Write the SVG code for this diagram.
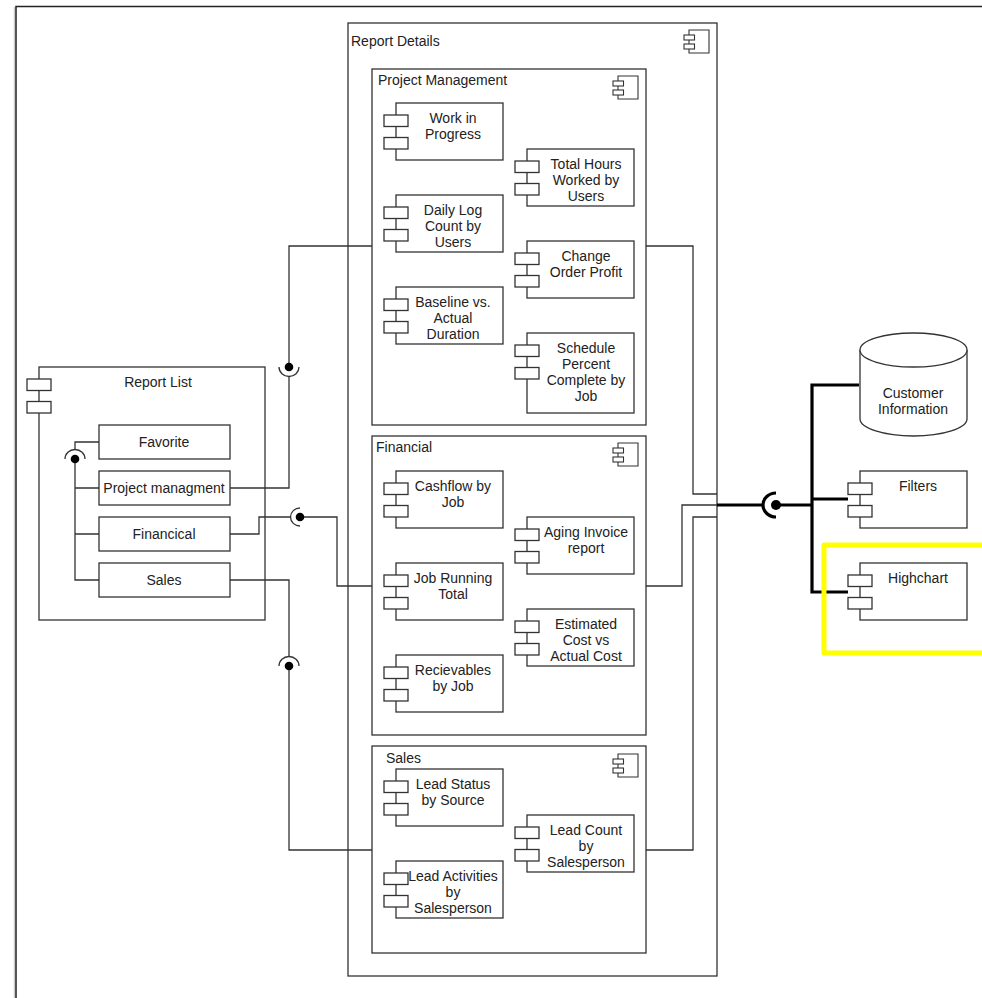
<svg xmlns="http://www.w3.org/2000/svg" width="982" height="998" viewBox="0 0 982 998">
<style>
text{font-family:"Liberation Sans",Arial,sans-serif;font-size:14px;fill:#222}
.m{text-anchor:middle}
.b{fill:#fff;stroke:#333;stroke-width:1.3}
.i{fill:#fff;stroke:#333;stroke-width:1.1}
.c{fill:none;stroke:#333;stroke-width:1.3}
.t{fill:none;stroke:#000;stroke-width:3.2}
.d{fill:#000;stroke:none}
</style>
<defs>
<g id="tabs"><rect class="b" x="-12" y="12" width="24" height="11.500"/><rect class="b" x="-12" y="34.500" width="24" height="11.500"/></g>
<g id="comp"><rect class="b" width="107" height="57"/><use href="#tabs"/></g>
<g id="icon"><path class="i" d="M5 0H25V23H5Z"/><rect class="i" y="5" width="10.500" height="5"/><rect class="i" y="14" width="10.500" height="5"/></g>
</defs>
<rect width="982" height="998" fill="#fff"/>
<path d="M14.500 998V7" fill="none" stroke="#ccc" stroke-width="1.500"/>
<path d="M16 998V6.500H982" fill="none" stroke="#222" stroke-width="1.500"/>

<g id="report-details"><rect class="b" x="348" y="23" width="369" height="953"/><text x="351" y="46">Report Details</text><use href="#icon" x="684" y="30"/></g>
<g id="project-management"><rect class="b" x="372" y="69" width="274" height="356"/><text x="378" y="85">Project Management</text><use href="#icon" x="613" y="76"/></g>
<g id="financial"><rect class="b" x="372" y="436" width="274" height="299"/><text x="376" y="452">Financial</text><use href="#icon" x="613" y="443"/></g>
<g id="sales"><rect class="b" x="372" y="746" width="274" height="207"/><text x="386" y="763">Sales</text><use href="#icon" x="613" y="754"/></g>

<g id="work-in-progress"><use href="#comp" x="396" y="103"/><text class="m" x="453" y="123">Work in</text><text class="m" x="453" y="139">Progress</text></g>
<g id="total-hours"><use href="#comp" x="527" y="149"/><text class="m" x="586" y="169">Total Hours</text><text class="m" x="586" y="185">Worked by</text><text class="m" x="586" y="201">Users</text></g>
<g id="daily-log"><use href="#comp" x="396" y="195"/><text class="m" x="453" y="215">Daily Log</text><text class="m" x="453" y="231">Count by</text><text class="m" x="453" y="247">Users</text></g>
<g id="change-order"><use href="#comp" x="527" y="241"/><text class="m" x="586" y="261">Change</text><text class="m" x="586" y="277">Order Profit</text></g>
<g id="baseline"><use href="#comp" x="396" y="287"/><text class="m" x="453" y="307">Baseline vs.</text><text class="m" x="453" y="323">Actual</text><text class="m" x="453" y="339">Duration</text></g>
<g id="schedule"><rect class="b" x="527" y="333" width="107" height="80"/><use href="#tabs" x="527" y="333"/><text class="m" x="586" y="353">Schedule</text><text class="m" x="586" y="369">Percent</text><text class="m" x="586" y="385">Complete by</text><text class="m" x="586" y="401">Job</text></g>
<g id="cashflow"><use href="#comp" x="396" y="471"/><text class="m" x="453" y="491">Cashflow by</text><text class="m" x="453" y="507">Job</text></g>
<g id="aging"><use href="#comp" x="527" y="517"/><text class="m" x="586" y="537">Aging Invoice</text><text class="m" x="586" y="553">report</text></g>
<g id="job-running"><use href="#comp" x="396" y="563"/><text class="m" x="453" y="583">Job Running</text><text class="m" x="453" y="599">Total</text></g>
<g id="estimated"><use href="#comp" x="527" y="609"/><text class="m" x="586" y="629">Estimated</text><text class="m" x="586" y="645">Cost vs</text><text class="m" x="586" y="661">Actual Cost</text></g>
<g id="recievables"><use href="#comp" x="396" y="655"/><text class="m" x="453" y="675">Recievables</text><text class="m" x="453" y="691">by Job</text></g>
<g id="lead-status"><use href="#comp" x="396" y="769"/><text class="m" x="453" y="789">Lead Status</text><text class="m" x="453" y="805">by Source</text></g>
<g id="lead-count"><use href="#comp" x="527" y="815"/><text class="m" x="586" y="835">Lead Count</text><text class="m" x="586" y="851">by</text><text class="m" x="586" y="867">Salesperson</text></g>
<g id="lead-activities"><use href="#comp" x="396" y="861"/><text class="m" x="453" y="881">Lead Activities</text><text class="m" x="453" y="897">by</text><text class="m" x="453" y="913">Salesperson</text></g>

<g id="report-list"><rect class="b" x="39" y="367" width="226" height="253"/><use href="#tabs" x="39" y="367"/><text class="m" x="158" y="387">Report List</text></g>
<g id="favorite"><rect class="b" x="99" y="425" width="131" height="34"/><text class="m" x="164" y="447">Favorite</text></g>
<g id="project-managment"><rect class="b" x="99" y="471" width="131" height="34"/><text class="m" x="164" y="493">Project managment</text></g>
<g id="financical"><rect class="b" x="99" y="517" width="131" height="34"/><text class="m" x="164" y="539">Financical</text></g>
<g id="sales-item"><rect class="b" x="99" y="563" width="131" height="34"/><text class="m" x="164" y="585">Sales</text></g>

<g id="customer-information"><path class="b" d="M860 350V419C860 428 884 436 913.500 436S967 428 967 419V350"/><ellipse class="b" cx="913.500" cy="350" rx="53.500" ry="17"/><text class="m" x="913" y="398">Customer</text><text class="m" x="913" y="414">Information</text></g>
<g id="filters"><rect class="b" x="860" y="471" width="107" height="57"/><use href="#tabs" x="860" y="471"/><text class="m" x="918" y="491">Filters</text></g>
<g id="highchart"><rect class="b" x="860" y="563" width="107" height="57"/><use href="#tabs" x="860" y="563"/><text class="m" x="918" y="583">Highchart</text></g>

<g id="connectors">
<path class="c" d="M99 442H75V450M75 459V580H99M75 488H99M75 534H99"/>
<path class="c" d="M65 459A10 9.500 0 0 1 85 459"/><circle class="d" cx="75" cy="459" r="4.300"/>
<path class="c" d="M230 488H289V377M289 367V246H372"/>
<path class="c" d="M279 367A10 9.500 0 0 0 299 367"/><circle class="d" cx="289" cy="367" r="4.300"/>
<path class="c" d="M230 534H259V517H291M300 517H337V586H372"/>
<path class="c" d="M300 508A9.500 9 0 0 0 300 526"/><circle class="d" cx="300" cy="517" r="4.300"/>
<path class="c" d="M230 580H289V657M289 666V850H372"/>
<path class="c" d="M279 666A10 9.500 0 0 1 299 666"/><circle class="d" cx="289" cy="666" r="4.300"/>
<path class="c" d="M646 246H693V494H717M646 586H682V505H717M646 850H693V517H717"/>
<path class="t" d="M717 505H763M776 505H812M859 385H812V592H848M812 499H848"/>
<path class="t" d="M776 493A13 12 0 0 0 776 517"/><circle class="d" cx="776" cy="505" r="5"/>
</g>
<rect id="highlight" x="824" y="545" width="170" height="108" fill="none" stroke="#ffff00" stroke-width="5" stroke-linejoin="round"/>
</svg>
